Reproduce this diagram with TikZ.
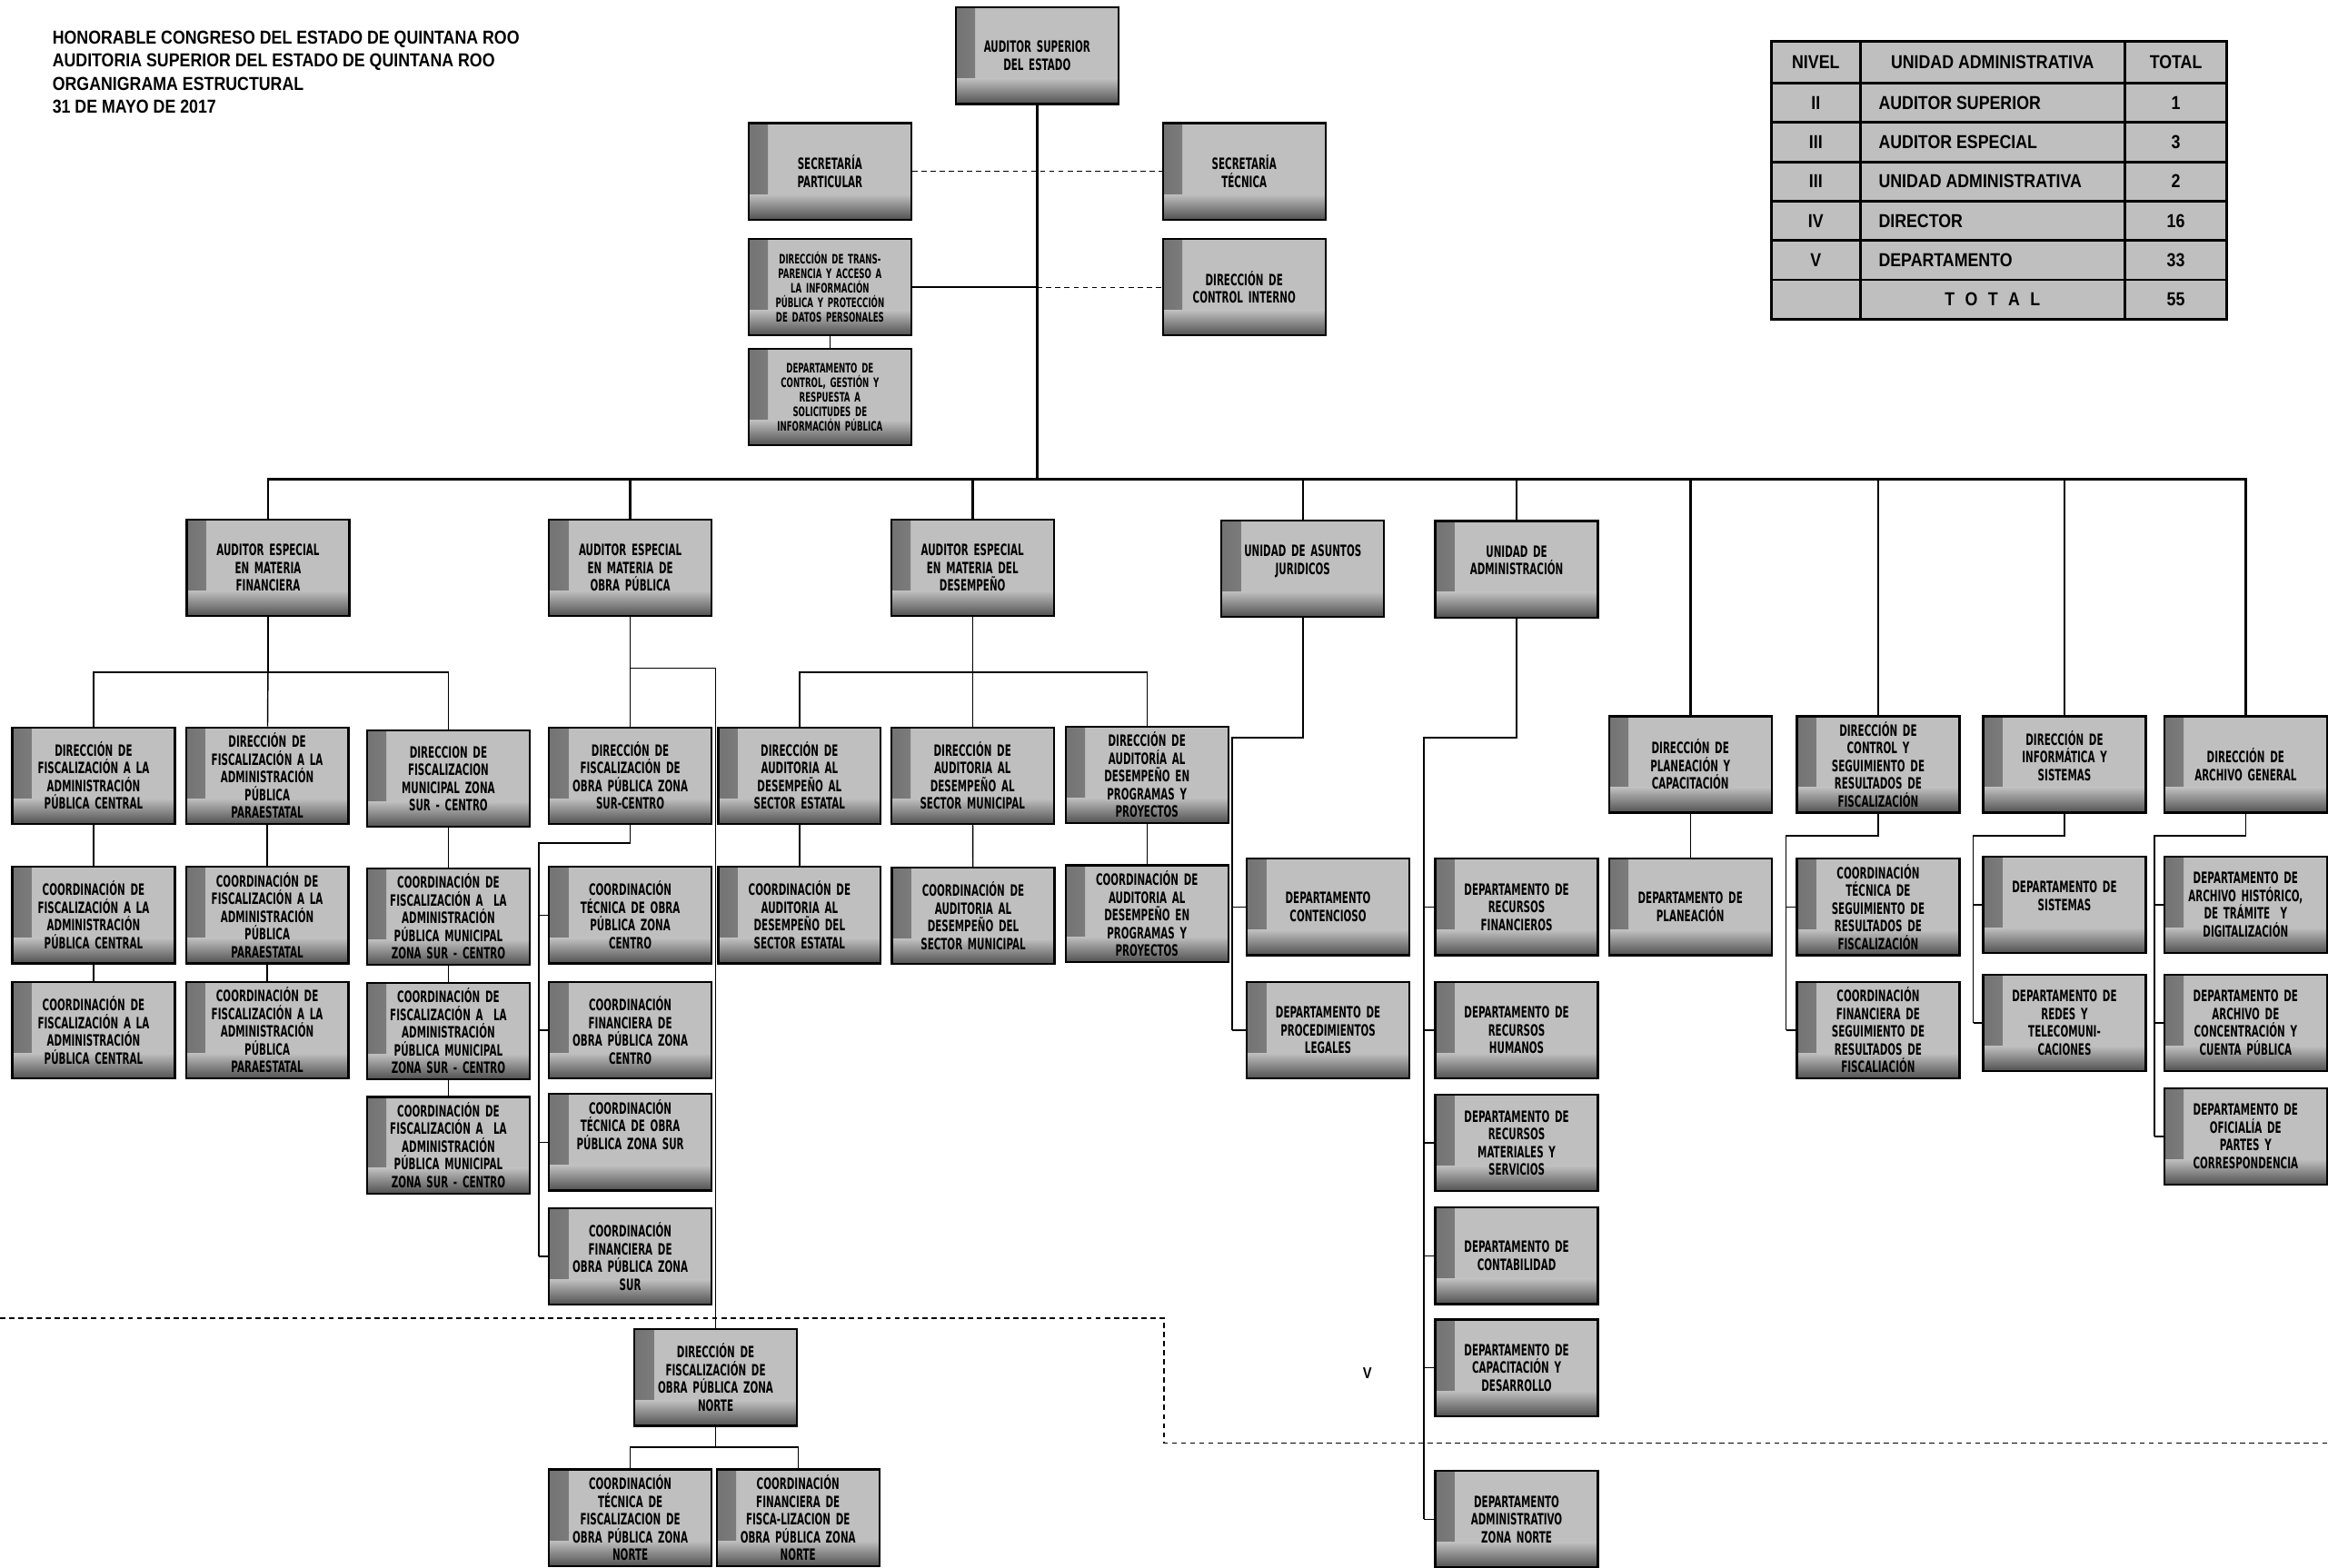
\documentclass[tikz,border=0pt]{standalone}
\usepackage{fontspec}
\setmainfont{Liberation Sans}
\newfontfamily\boxfont{DejaVu Sans Bold}[FakeStretch=0.6]
\newfontfamily\headfont{Liberation Sans Bold}[FakeStretch=0.86]
\definecolor{boxgray}{HTML}{BFBFBF}
\definecolor{edgegray}{HTML}{707070}
\definecolor{shadegray}{HTML}{303030}

\begin{document}
\begin{tikzpicture}[x=0.02cm, y=-0.02cm,
		org/.style={draw=black, line width=0.8pt, fill=boxgray, minimum width=2.18cm, minimum height=1.3cm,
			text width=2.12cm, inner sep=1pt, align=center, font=\boxfont\fontsize{6}{6.8}\selectfont,
			path picture={
				\shade[left color=edgegray, right color=boxgray] ([xshift=-0.08cm]path picture bounding box.south west) rectangle ([xshift=0.26cm]path picture bounding box.north west);
				\shade[top color=boxgray, bottom color=shadegray] ([yshift=0.34cm]path picture bounding box.south west) rectangle ([yshift=-0.1cm]path picture bounding box.south east);
			}},
		org small/.style={org, font=\boxfont\fontsize{5}{5.6}\selectfont},
		cell/.style={inner sep=0pt, font=\headfont\fontsize{7.2}{8}\selectfont},
		link/.style={line width=0.5pt},
		trunkline/.style={line width=0.9pt},
		sep/.style={line width=0.4pt, dash pattern=on 2pt off 1.5pt}]
	\useasboundingbox (0,0) rectangle (1568,1056);
	\node[anchor=west, align=left, inner sep=0pt, font=\headfont\fontsize{7.2}{8.9}\selectfont] (title) at (35,48.5) {HONORABLE CONGRESO DEL ESTADO DE QUINTANA ROO\\AUDITORIA SUPERIOR DEL ESTADO DE QUINTANA ROO\\ORGANIGRAMA ESTRUCTURAL\\31 DE MAYO DE 2017};

	\node[org] (as) at (698.5,37.5) {AUDITOR SUPERIOR\\DEL ESTADO};
	\node[org] (sp) at (559,115.5) {SECRETARÍA\\PARTICULAR};
	\node[org] (st) at (838,115.5) {SECRETARÍA\\TÉCNICA};
	\node[org small] (dt) at (559,193.5) {DIRECCIÓN DE TRANS-\\PARENCIA Y ACCESO A\\LA INFORMACIÓN\\PÚBLICA Y PROTECCIÓN\\DE DATOS PERSONALES};
	\node[org] (dci) at (838,193.5) {DIRECCIÓN DE\\CONTROL INTERNO};
	\node[org small] (dcg) at (559,267.5) {DEPARTAMENTO DE\\CONTROL, GESTIÓN Y\\RESPUESTA A\\SOLICITUDES DE\\INFORMACIÓN PÚBLICA};

	\node[org] (aef) at (180.5,382.5) {AUDITOR ESPECIAL\\EN MATERIA\\FINANCIERA};
	\node[org] (aeo) at (424.5,382.5) {AUDITOR ESPECIAL\\EN MATERIA DE\\OBRA PÚBLICA};
	\node[org] (aed) at (655,382.5) {AUDITOR ESPECIAL\\EN MATERIA DEL\\DESEMPEÑO};
	\node[org] (uaj) at (877.5,383) {UNIDAD DE ASUNTOS\\JURIDICOS\\~};
	\node[org] (uad) at (1021.5,383.5) {UNIDAD DE\\ADMINISTRACIÓN\\~};

	\node[org] (df1) at (63,522.5) {DIRECCIÓN DE\\FISCALIZACIÓN A LA\\ADMINISTRACIÓN\\PÚBLICA CENTRAL};
	\node[org] (df2) at (180,522.5) {DIRECCIÓN DE\\FISCALIZACIÓN A LA\\ADMINISTRACIÓN\\PÚBLICA\\PARAESTATAL};
	\node[org] (df3) at (302,524.5) {DIRECCION DE\\FISCALIZACION\\MUNICIPAL ZONA\\SUR - CENTRO};
	\node[org] (dosc) at (424.5,522.5) {DIRECCIÓN DE\\FISCALIZACIÓN DE\\OBRA PÚBLICA ZONA\\SUR-CENTRO};
	\node[org] (dae) at (538.5,522.5) {DIRECCIÓN DE\\AUDITORIA AL\\DESEMPEÑO AL\\SECTOR ESTATAL};
	\node[org] (dam) at (655,522.5) {DIRECCIÓN DE\\AUDITORIA AL\\DESEMPEÑO AL\\SECTOR MUNICIPAL};
	\node[org] (dap) at (772.5,522) {DIRECCIÓN DE\\AUDITORÍA AL\\DESEMPEÑO EN\\PROGRAMAS Y\\PROYECTOS};
	\node[org] (dpc) at (1138.5,515) {DIRECCIÓN DE\\PLANEACIÓN Y\\CAPACITACIÓN};
	\node[org] (dcs) at (1265,515) {DIRECCIÓN DE\\CONTROL Y\\SEGUIMIENTO DE\\RESULTADOS DE\\FISCALIZACIÓN};
	\node[org] (dis) at (1390.5,515) {DIRECCIÓN DE\\INFORMÁTICA Y\\SISTEMAS\\~};
	\node[org] (dag) at (1512.5,515) {DIRECCIÓN DE\\ARCHIVO GENERAL};

	\node[org] (c1a) at (63,616.5) {COORDINACIÓN DE\\FISCALIZACIÓN A LA\\ADMINISTRACIÓN\\PÚBLICA CENTRAL};
	\node[org] (c1b) at (63,694) {COORDINACIÓN DE\\FISCALIZACIÓN A LA\\ADMINISTRACIÓN\\PÚBLICA CENTRAL};
	\node[org] (c2a) at (180,616.5) {COORDINACIÓN DE\\FISCALIZACIÓN A LA\\ADMINISTRACIÓN\\PÚBLICA\\PARAESTATAL};
	\node[org] (c2b) at (180,694) {COORDINACIÓN DE\\FISCALIZACIÓN A LA\\ADMINISTRACIÓN\\PÚBLICA\\PARAESTATAL};
	\node[org] (c3a) at (302,617.5) {COORDINACIÓN DE\\FISCALIZACIÓN A \ LA\\ADMINISTRACIÓN\\PÚBLICA MUNICIPAL\\ZONA SUR - CENTRO};
	\node[org] (c3b) at (302,694.5) {COORDINACIÓN DE\\FISCALIZACIÓN A \ LA\\ADMINISTRACIÓN\\PÚBLICA MUNICIPAL\\ZONA SUR - CENTRO};
	\node[org] (c3c) at (302,771.5) {COORDINACIÓN DE\\FISCALIZACIÓN A \ LA\\ADMINISTRACIÓN\\PÚBLICA MUNICIPAL\\ZONA SUR - CENTRO};
	\node[org] (ctc) at (424.5,616.5) {COORDINACIÓN\\TÉCNICA DE OBRA\\PÚBLICA ZONA\\CENTRO};
	\node[org] (cfc) at (424.5,694) {COORDINACIÓN\\FINANCIERA DE\\OBRA PÚBLICA ZONA\\CENTRO};
	\node[org] (cts) at (424.5,769.5) {COORDINACIÓN\\TÉCNICA DE OBRA\\PÚBLICA ZONA SUR\\~\\~};
	\node[org] (cfs) at (424.5,846.5) {COORDINACIÓN\\FINANCIERA DE\\OBRA PÚBLICA ZONA\\SUR};
	\node[org] (cae) at (538.5,616.5) {COORDINACIÓN DE\\AUDITORIA AL\\DESEMPEÑO DEL\\SECTOR ESTATAL};
	\node[org] (cam) at (655.5,617) {COORDINACIÓN DE\\AUDITORIA AL\\DESEMPEÑO DEL\\SECTOR MUNICIPAL};
	\node[org] (cap) at (772.5,615.5) {COORDINACIÓN DE\\AUDITORIA AL\\DESEMPEÑO EN\\PROGRAMAS Y\\PROYECTOS};
	\node[org] (dco) at (894.5,611) {DEPARTAMENTO\\CONTENCIOSO};
	\node[org] (dpl) at (894.5,694) {DEPARTAMENTO DE\\PROCEDIMIENTOS\\LEGALES};
	\node[org] (drf) at (1021.5,611) {DEPARTAMENTO DE\\RECURSOS\\FINANCIEROS};
	\node[org] (drh) at (1021.5,694) {DEPARTAMENTO DE\\RECURSOS\\HUMANOS};
	\node[org] (drm) at (1021.5,770) {DEPARTAMENTO DE\\RECURSOS\\MATERIALES Y\\SERVICIOS};
	\node[org] (dcon) at (1021.5,846) {DEPARTAMENTO DE\\CONTABILIDAD};
	\node[org] (dcap) at (1021.5,921.5) {DEPARTAMENTO DE\\CAPACITACIÓN Y\\DESARROLLO};
	\node[org] (dazn) at (1021.5,1023.5) {DEPARTAMENTO\\ADMINISTRATIVO\\ZONA NORTE};
	\node[org] (dpn) at (1138.5,611) {DEPARTAMENTO DE\\PLANEACIÓN};
	\node[org] (ctr) at (1265,611) {COORDINACIÓN\\TÉCNICA DE\\SEGUIMIENTO DE\\RESULTADOS DE\\FISCALIZACIÓN};
	\node[org] (cfr) at (1265,694) {COORDINACIÓN\\FINANCIERA DE\\SEGUIMIENTO DE\\RESULTADOS DE\\FISCALIACIÓN};
	\node[org] (dsi) at (1390.5,609.5) {DEPARTAMENTO DE\\SISTEMAS\\~};
	\node[org] (drt) at (1390.5,689) {DEPARTAMENTO DE\\REDES Y\\TELECOMUNI-\\CACIONES};
	\node[org] (dah) at (1512.5,609.5) {DEPARTAMENTO DE\\ARCHIVO HISTÓRICO,\\DE TRÁMITE \ Y\\DIGITALIZACIÓN};
	\node[org] (dac) at (1512.5,689) {DEPARTAMENTO DE\\ARCHIVO DE\\CONCENTRACIÓN Y\\CUENTA PÚBLICA};
	\node[org] (dop) at (1512.5,765.5) {DEPARTAMENTO DE\\OFICIALÍA DE\\PARTES Y\\CORRESPONDENCIA};
	\node[org] (dfn) at (482,928) {DIRECCIÓN DE\\FISCALIZACIÓN DE\\OBRA PÚBLICA ZONA\\NORTE};
	\node[org] (ctn) at (424.5,1022.5) {COORDINACIÓN\\TÉCNICA DE\\FISCALIZACION DE\\OBRA PÚBLICA ZONA\\NORTE};
	\node[org] (cfn) at (537.5,1022.5) {COORDINACIÓN\\FINANCIERA DE\\FISCA-LIZACION DE\\OBRA PÚBLICA ZONA\\NORTE};
	\node[font=\headfont\fontsize{6}{7}\selectfont] (v) at (921,925) {V};

	\coordinate (trunk) at (698.5,323);
	\draw[trunkline] (as) -- (trunk);
	\foreach \n in {aef,aeo,aed,uaj,uad,dpc,dcs,dis,dag}
		\draw[trunkline] (trunk) -| (\n);
	\draw[sep] (sp) -- (st);
	\draw[link] (dt) -- (dt -| trunk);
	\draw[sep] (dt -| trunk) -- (dci);
	\draw[link] (dt) -- (dcg);

	\coordinate (fb) at (180.5,453);
	\draw[link] (aef) -- (fb);
	\draw[link] (df1) |- (fb) -| (df3);
	\draw[link] (fb) -- (df2);
	\draw[link] (df1) -- (c1a) -- (c1b);
	\draw[link] (df2) -- (c2a) -- (c2b);
	\draw[link] (df3) -- (c3a) -- (c3b) -- (c3c);

	\coordinate (ob) at (424.5,450);
	\draw[link] (aeo) -- (dosc);
	\draw[link] (ob) -| (dfn);
	\coordinate (os) at (363,568);
	\draw[link] (dosc) |- (os) -- (os |- cfs);
	\foreach \n in {ctc,cfc,cts,cfs}
		\draw[link] (os |- \n) -- (\n);
	\coordinate (nb) at (482,975);
	\draw[link] (dfn) -- (nb);
	\draw[link] (ctn) |- (nb) -| (cfn);

	\coordinate (db) at (655,453);
	\draw[link] (aed) -- (dam);
	\draw[link] (dae) |- (db) -| (dap);
	\draw[link] (dae) -- (cae);
	\draw[link] (dam) -- (cam);
	\draw[link] (dap) -- (cap);

	\coordinate (jb) at (830,497);
	\draw[link] (uaj) |- (jb) -- (jb |- dpl);
	\foreach \n in {dco,dpl}
		\draw[link] (jb |- \n) -- (\n);
	\coordinate (ab) at (959,497);
	\draw[link] (uad) |- (ab) -- (ab |- dazn);
	\foreach \n in {drf,drh,drm,dcon,dcap,dazn}
		\draw[link] (ab |- \n) -- (\n);

	\draw[link] (dpc) -- (dpn);
	\coordinate (sb) at (1203,563);
	\draw[link] (dcs) |- (sb) -- (sb |- cfr);
	\foreach \n in {ctr,cfr}
		\draw[link] (sb |- \n) -- (\n);
	\coordinate (ib) at (1329,563);
	\draw[link] (dis) |- (ib) -- (ib |- drt);
	\foreach \n in {dsi,drt}
		\draw[link] (ib |- \n) -- (\n);
	\coordinate (gb) at (1451,563);
	\draw[link] (dag) |- (gb) -- (gb |- dop);
	\foreach \n in {dah,dac,dop}
		\draw[link] (gb |- \n) -- (\n);

	\draw[sep] (0,888) -- (784,888) -- (784,972) -- (1568,972);

	\fill[boxgray] (1193,28) rectangle (1500,215);
	\foreach \y in {56,82.5,109,135.5,162,188.5}
		\draw[line width=1pt] (1193,\y) -- (1500,\y);
	\draw[line width=1pt] (1193,28) rectangle (1500,215) (1253,28) -- (1253,215) (1431,28) -- (1431,215);
	\node[cell] (hnv) at (1223,42) {NIVEL};
	\node[cell] (hua) at (1342,42) {UNIDAD ADMINISTRATIVA};
	\node[cell] (htn) at (1465.5,42) {TOTAL};
	\foreach \nv/\ua/\tn [count=\i] in {II/AUDITOR SUPERIOR/1, III/AUDITOR ESPECIAL/3, III/UNIDAD ADMINISTRATIVA/2, IV/DIRECTOR/16, V/DEPARTAMENTO/33}{
		\node[cell] (nv\i) at (1223,42.75+26.5*\i) {\nv};
		\node[cell, anchor=west] (ua\i) at (1265,42.75+26.5*\i) {\ua};
		\node[cell] (tn\i) at (1465.5,42.75+26.5*\i) {\tn};
	}
	\node[cell] (tot) at (1342,201.75) {T\hspace{0.55em}O\hspace{0.55em}T\hspace{0.55em}A\hspace{0.55em}L};
	\node[cell] (sum) at (1465.5,201.75) {55};
\end{tikzpicture}
\end{document}
